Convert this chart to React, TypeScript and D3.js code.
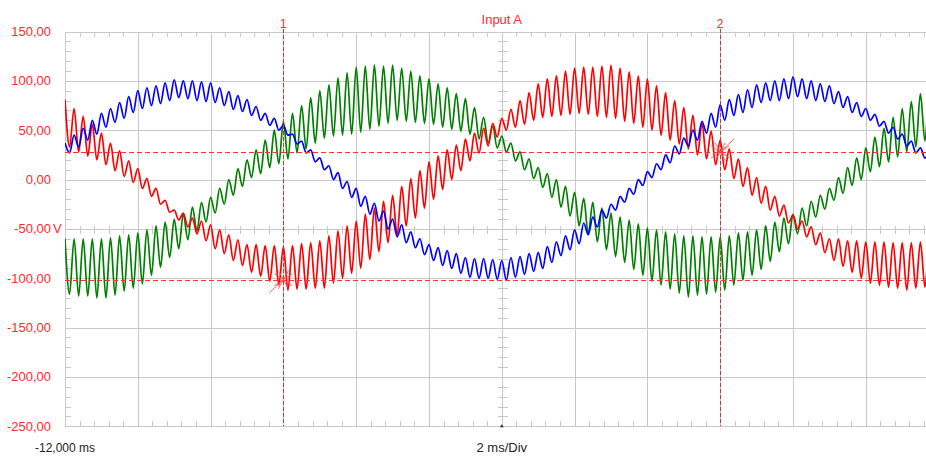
import React, { useEffect, useRef } from "react";
import * as d3 from "d3";

// scope settings
const timeDomain = [-12, 12]; // ms, 2 ms/Div, 12 divisions
const voltDomain = [-250, 150];
const voltTicks = [150, 100, 50, 0, -50, -100, -150, -200, -250];
const timeDivs = [-12, -10, -8, -6, -4, -2, 0, 2, 4, 6, 8, 10, 12];
const cursorTimes = [-6, 6];
const cursorVolts = [28, -101.5];
const sampleStart = -12; // ms, first ripple peak
const sampleStep = 0.25; // ms, ripple period

// ripple peaks (hi) and troughs (lo), one pair per 0.25 ms
const blueHi = [
  37, 45, 52, 60, 67, 72, 78, 84, 90, 93, 95, 98, 101, 100, 100, 99,
  98, 93, 89, 85, 81, 74, 67, 62, 55, 46, 39, 30, 22, 14, 7, -2,
  -9, -17, -24, -32, -40, -46, -53, -60, -66, -69, -72, -75, -79, -80, -80, -81,
  -82, -79, -78, -75, -74, -68, -63, -57, -51, -44, -38, -31, -25, -17, -9, 0,
  8, 16, 25, 34, 42, 50, 59, 67, 76, 81, 86, 91, 96, 98, 100, 102,
  104, 102, 100, 97, 95, 89, 84, 78, 72, 66, 59, 53, 46, 39, 32, 25,
];
const blueLo = [
  27, 33, 40, 46, 53, 58, 62, 68, 72, 75, 77, 80, 83, 82, 80, 79,
  78, 75, 71, 69, 65, 60, 55, 50, 45, 36, 27, 18, 10, 0, -9, -18,
  -27, -35, -42, -50, -58, -64, -69, -76, -82, -87, -90, -95, -99, -100, -100, -101,
  -102, -99, -96, -93, -90, -84, -77, -71, -65, -56, -48, -39, -31, -23, -15, -6,
  2, 10, 17, 26, 34, 40, 47, 53, 60, 65, 68, 73, 78, 80, 80, 82,
  84, 82, 80, 79, 77, 73, 68, 64, 60, 54, 47, 41, 34, 27, 22, 15,
];
const redHi = [
  81, 72, 64, 56, 47, 37, 29, 19, 11, 1, -9, -21, -31, -34, -39, -42,
  -46, -51, -56, -61, -66, -66, -67, -67, -68, -67, -65, -64, -62, -57, -52, -47,
  -42, -35, -29, -22, -16, -7, 1, 9, 18, 24, 30, 35, 41, 47, 52, 57,
  62, 71, 80, 88, 97, 102, 105, 110, 113, 114, 114, 115, 116, 113, 109, 105,
  102, 95, 88, 80, 73, 65, 57, 49, 40, 31, 21, 12, 2, -7, -17, -26,
  -36, -42, -48, -54, -60, -60, -62, -62, -63, -63, -63, -64, -64, -64, -63, -63,
];
const redLo = [
  33, 28, 24, 20, 15, 9, 3, -3, -9, -17, -25, -33, -41, -48, -55, -62,
  -70, -75, -82, -87, -94, -98, -103, -107, -112, -111, -111, -110, -110, -105, -100, -95,
  -90, -81, -73, -64, -56, -47, -39, -29, -20, -10, 0, 9, 19, 27, 34, 43,
  50, 53, 56, 60, 63, 64, 65, 66, 67, 66, 64, 63, 62, 59, 57, 53,
  50, 45, 40, 36, 31, 25, 21, 15, 10, 1, -7, -16, -24, -31, -37, -44,
  -50, -58, -66, -74, -82, -88, -94, -100, -105, -107, -109, -110, -112, -110, -109, -107,
];
const greenHi = [
  -60, -60, -60, -60, -60, -59, -57, -56, -54, -51, -47, -43, -40, -35, -28, -23,
  -18, -9, 0, 11, 20, 30, 40, 50, 59, 67, 75, 83, 90, 96, 103, 108,
  114, 115, 116, 115, 116, 113, 110, 105, 102, 97, 93, 87, 82, 73, 63, 54,
  44, 37, 28, 21, 12, 6, 0, -7, -13, -19, -23, -29, -34, -38, -41, -45,
  -49, -51, -53, -55, -57, -57, -58, -58, -58, -57, -54, -53, -51, -47, -43, -39,
  -35, -29, -22, -16, -9, 2, 12, 22, 32, 43, 52, 63, 72, 79, 87, 93,
];
const greenLo = [
  -116, -118, -118, -120, -120, -117, -113, -110, -106, -97, -89, -79, -70, -61, -52, -43,
  -34, -25, -16, -7, 2, 6, 12, 16, 21, 27, 31, 37, 42, 44, 45, 46,
  48, 51, 54, 57, 60, 59, 58, 57, 56, 53, 51, 49, 46, 41, 37, 32,
  28, 19, 10, 1, -8, -18, -28, -37, -47, -55, -63, -71, -78, -84, -91, -97,
  -103, -107, -111, -115, -119, -117, -116, -114, -112, -107, -102, -97, -91, -83, -73, -65,
  -55, -47, -38, -30, -21, -14, -6, 0, 8, 13, 18, 23, 28, 33, 39, 45,
];

const traces = [
  { name: "green", color: "#008000", hi: greenHi, lo: greenLo },
  { name: "red", color: "#ff0000", hi: redHi, lo: redLo },
  { name: "blue", color: "#0000ff", hi: blueHi, lo: blueLo },
];

const App = () => {
  const svgRef = useRef(null);

  useEffect(() => {
    const w = 926;
    const h = 457;
    const left = 65;
    const right = 938.6;
    const top = 31.5;
    const bottom = 426.3;
    const grid = "#c8c8c8";
    const labelRed = "#ff2a2a";
    const font = "'Liberation Sans', Arial, sans-serif";

    const svg = d3.select(svgRef.current);
    svg.selectAll("*").remove();
    svg.attr("width", w).attr("height", h);

    const x = d3.scaleLinear().domain(timeDomain).range([left, right]);
    const y = d3.scaleLinear().domain(voltDomain).range([bottom, top]);

    svg.append("rect").attr("width", w).attr("height", h).attr("fill", "#fff");

    // grid
    const g = svg.append("g").attr("shape-rendering", "crispEdges");
    g.selectAll(".vg")
      .data(timeDivs)
      .join("line")
      .attr("x1", d => Math.round(x(d)) + 0.5)
      .attr("x2", d => Math.round(x(d)) + 0.5)
      .attr("y1", top)
      .attr("y2", bottom)
      .attr("stroke", grid);
    g.selectAll(".hg")
      .data(voltTicks)
      .join("line")
      .attr("x1", left)
      .attr("x2", right)
      .attr("y1", d => Math.round(y(d)) + 0.5)
      .attr("y2", d => Math.round(y(d)) + 0.5)
      .attr("stroke", grid);

    // minor ticks: 5 per division
    const minorT = d3.range(-12, 12.001, 0.4);
    const minorV = d3.range(-250, 150.001, 10);
    const tickData = [];
    minorT.forEach(t => {
      const px = Math.round(x(t)) + 0.5;
      tickData.push([px, top, px, top + 5]);
      tickData.push([px, bottom - 5, px, bottom]);
      tickData.push([px, Math.round(y(-50)) + 0.5 - 4, px, Math.round(y(-50)) + 0.5 + 4]);
    });
    minorV.forEach(v => {
      const py = Math.round(y(v)) + 0.5;
      tickData.push([left, py, left + 6, py]);
      tickData.push([Math.round(x(0)) + 0.5 - 5, py, Math.round(x(0)) + 0.5 + 5, py]);
    });
    g.selectAll(".tk")
      .data(tickData)
      .join("line")
      .attr("x1", d => d[0])
      .attr("y1", d => d[1])
      .attr("x2", d => d[2])
      .attr("y2", d => d[3])
      .attr("stroke", grid);

    // traces
    svg.append("clipPath")
      .attr("id", "plotClip")
      .append("rect")
      .attr("x", left)
      .attr("y", top)
      .attr("width", right - left)
      .attr("height", bottom - top);

    const line = d3.line()
      .x(d => x(d[0]))
      .y(d => y(d[1]))
      .curve(d3.curveMonotoneX);

    const tg = svg.append("g").attr("clip-path", "url(#plotClip)");
    traces.forEach(s => {
      const pts = [];
      s.hi.forEach((v, i) => {
        const t = sampleStart + i * sampleStep;
        pts.push([t, v]);
        pts.push([t + sampleStep / 2, s.lo[i]]);
      });
      tg.append("path")
        .datum(pts)
        .attr("d", line)
        .attr("fill", "none")
        .attr("stroke", s.color)
        .attr("stroke-width", 1.7)
        .attr("stroke-linejoin", "round");
    });

    // cursors
    const cg = svg.append("g");
    cg.selectAll(".hc")
      .data(cursorVolts)
      .join("line")
      .attr("x1", left)
      .attr("x2", right)
      .attr("y1", d => Math.round(y(d)) + 0.5)
      .attr("y2", d => Math.round(y(d)) + 0.5)
      .attr("stroke", "#ff3030")
      .attr("stroke-dasharray", "5,3")
      .attr("shape-rendering", "crispEdges");
    cg.selectAll(".vc")
      .data(cursorTimes)
      .join("line")
      .attr("x1", d => Math.round(x(d)) + 0.5)
      .attr("x2", d => Math.round(x(d)) + 0.5)
      .attr("y1", 29)
      .attr("y2", bottom)
      .attr("stroke", "#c03a3a")
      .attr("stroke-dasharray", "4,2")
      .attr("shape-rendering", "crispEdges");
    cg.selectAll(".vl")
      .data(cursorTimes)
      .join("text")
      .attr("x", d => x(d))
      .attr("y", 28)
      .attr("text-anchor", "middle")
      .attr("font-family", font)
      .attr("font-size", 12)
      .attr("fill", labelRed)
      .text((d, i) => String(i + 1));

    // cursor markers
    const marks = [
      { t: cursorTimes[0], v: cursorVolts[1], dir: -1 },
      { t: cursorTimes[1], v: cursorVolts[0], dir: 1 },
    ];
    marks.forEach(m => {
      const cx = x(m.t);
      const cy = y(m.v);
      const mg = cg.append("g").attr("stroke", "#ff5050").attr("stroke-width", 0.9).attr("fill", "none");
      mg.append("path").attr("d", `M${cx - 9},${cy - 6}L${cx + 9},${cy + 6}M${cx - 9},${cy + 6}L${cx + 9},${cy - 6}`);
      mg.append("path").attr("d", `M${cx - 5},${cy - 9}L${cx + 5},${cy + 9}M${cx - 5},${cy + 9}L${cx + 5},${cy - 9}`);
      mg.append("path").attr("d", m.dir < 0
        ? `M${cx},${cy}L${cx - 14},${cy + 13}`
        : `M${cx},${cy}L${cx + 14},${cy - 13}`);
    });

    // small marker at bottom of centre axis
    svg.append("path")
      .attr("d", `M${x(0) - 2},${bottom + 1}L${x(0) + 2},${bottom + 1}L${x(0)},${bottom - 2}Z`)
      .attr("fill", "#333");

    // volt labels
    svg.selectAll(".yl")
      .data(voltTicks)
      .join("text")
      .attr("x", 51)
      .attr("y", d => y(d) + 4.5)
      .attr("text-anchor", "end")
      .attr("font-family", font)
      .attr("font-size", 13)
      .attr("fill", labelRed)
      .text(d => d.toFixed(2).replace(".", ","));
    svg.append("text")
      .attr("x", 53)
      .attr("y", y(-50) + 4.5)
      .attr("font-family", font)
      .attr("font-size", 13)
      .attr("fill", labelRed)
      .text("V");

    svg.append("text")
      .attr("x", x(0))
      .attr("y", 24)
      .attr("text-anchor", "middle")
      .attr("font-family", font)
      .attr("font-size", 13)
      .attr("fill", labelRed)
      .text("Input A");

    svg.append("text")
      .attr("x", 35)
      .attr("y", 452)
      .attr("font-family", font)
      .attr("font-size", 12)
      .attr("fill", "#222")
      .text("-12,000 ms");

    svg.append("text")
      .attr("x", x(0))
      .attr("y", 452)
      .attr("text-anchor", "middle")
      .attr("font-family", font)
      .attr("font-size", 13)
      .attr("fill", "#222")
      .text("2 ms/Div");
  }, []);

  return (
    <svg ref={svgRef} style={{ position: "fixed", left: 0, top: 0, display: "block" }}></svg>
  );
};

export default App;
